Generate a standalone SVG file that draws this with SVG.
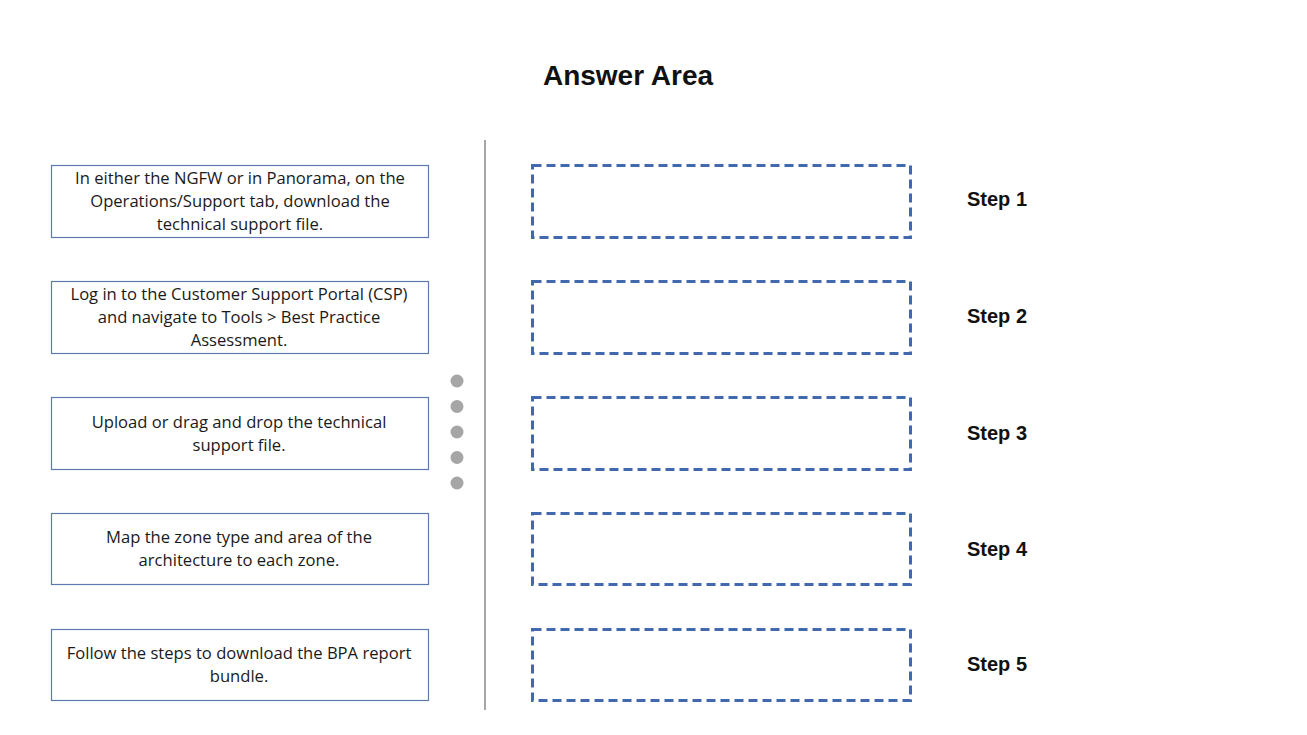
<svg xmlns="http://www.w3.org/2000/svg" width="1307" height="735" viewBox="0 0 1307 735">
<style>
.src{fill:#fff;stroke:#5a7bac;stroke-width:1.2}
.dst{fill:none;stroke:#4269ad;stroke-width:3;stroke-dasharray:9,5}
.t{font-family:"Open Sans","Liberation Sans",sans-serif;font-size:16.6px;fill:#1a1a1a;text-anchor:middle}
.s{font-family:"Liberation Sans",Arial,sans-serif;font-size:20px;font-weight:bold;fill:#111}
.dot{fill:#a6a6a6}
</style>
<rect width="1307" height="735" fill="#fff"/>
<text x="628" y="85" font-family="Liberation Sans,Arial,sans-serif" font-size="28" font-weight="bold" text-anchor="middle" fill="#111">Answer Area</text>
<g id="divider"><line x1="485" y1="140" x2="485" y2="710" stroke="#a6a6a6" stroke-width="2"/></g>
<g id="dots">
<circle class="dot" cx="457" cy="381" r="6.5"/>
<circle class="dot" cx="457" cy="406.5" r="6.5"/>
<circle class="dot" cx="457" cy="432" r="6.5"/>
<circle class="dot" cx="457" cy="457.5" r="6.5"/>
<circle class="dot" cx="457" cy="483" r="6.5"/>
</g>
<g id="opt1"><rect class="src" x="51.5" y="165.5" width="377" height="72"/>
<text class="t" x="240" y="184">In either the NGFW or in Panorama, on the</text>
<text class="t" x="240" y="207">Operations/Support tab, download the</text>
<text class="t" x="240" y="230">technical support file.</text></g>
<g id="opt2"><rect class="src" x="51.5" y="281.5" width="377" height="72"/>
<text class="t" x="239" y="300">Log in to the Customer Support Portal (CSP)</text>
<text class="t" x="239" y="323">and navigate to Tools &gt; Best Practice</text>
<text class="t" x="239" y="346">Assessment.</text></g>
<g id="opt3"><rect class="src" x="51.5" y="397.5" width="377" height="72"/>
<text class="t" x="239" y="428">Upload or drag and drop the technical</text>
<text class="t" x="239" y="451">support file.</text></g>
<g id="opt4"><rect class="src" x="51.5" y="513.5" width="377" height="71"/>
<text class="t" x="239" y="543">Map the zone type and area of the</text>
<text class="t" x="239" y="566">architecture to each zone.</text></g>
<g id="opt5"><rect class="src" x="51.5" y="629.5" width="377" height="71"/>
<text class="t" x="239" y="659">Follow the steps to download the BPA report</text>
<text class="t" x="239" y="682">bundle.</text></g>
<g id="step1"><rect class="dst" x="532.5" y="165.5" width="378" height="72"/><text class="s" x="967" y="206">Step 1</text></g>
<g id="step2"><rect class="dst" x="532.5" y="281.5" width="378" height="72"/><text class="s" x="967" y="323">Step 2</text></g>
<g id="step3"><rect class="dst" x="532.5" y="397.5" width="378" height="72"/><text class="s" x="967" y="440">Step 3</text></g>
<g id="step4"><rect class="dst" x="532.5" y="513.5" width="378" height="71"/><text class="s" x="967" y="556">Step 4</text></g>
<g id="step5"><rect class="dst" x="532.5" y="629.5" width="378" height="71"/><text class="s" x="967" y="671">Step 5</text></g>
</svg>
